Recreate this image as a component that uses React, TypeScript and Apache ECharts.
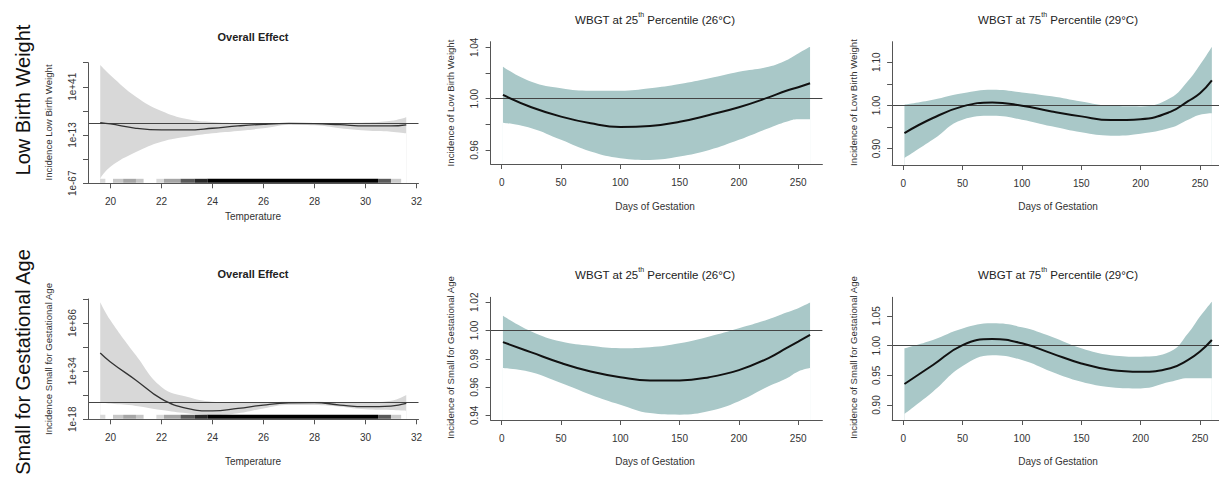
import React, { useEffect, useRef } from 'react';
import * as echarts from 'echarts';

const FONT = '"Liberation Sans", Arial, Helvetica, sans-serif';

// ---- Overall effect panels (values are log10 of incidence) ----
const TEMPS = [19.6, 20, 21, 22, 23, 24, 25, 26, 27, 28, 29, 30, 31, 31.6];
const LBW_ALL_FIT = [0.9, -0.6, -5.4, -7.3, -7.3, -5.4, -2.8, -0.9, 0, -0.2, -1.4, -2.8, -2.8, -1.5];
const LBW_ALL_HI = [65.5, 54, 30, 14, 5, 1.5, 0.5, 0.5, 0.3, 0.3, 0.5, 1, 3, 7];
const LBW_ALL_LO = [-61.4, -48.4, -32, -20.4, -14.8, -11, -8.4, -5.4, -1.7, -2, -5.4, -8, -9.2, -11];
const SGA_ALL_FIT = [53.7, 44, 24.3, 4, -6.2, -9, -6.2, -2.6, -0.3, 0.1, -2.6, -4.4, -3.7, -0.8];
const SGA_ALL_HI = [108.6, 89, 51.2, 17, 6.3, 1, 0, 0.3, 1, 1, 0.3, 0.3, 2, 8.2];
const SGA_ALL_LO = [0.5, -1, -3.5, -8, -11.5, -13.4, -11.5, -6.2, -2.6, -2.6, -4.4, -7.2, -8, -8.7];

// rug of observed temperatures: [from, to, darkness]
const RUG = [
  [19.6, 19.8, 0.15], [20.1, 20.5, 0.22], [20.5, 21.0, 0.35], [21.0, 21.3, 0.22],
  [21.8, 22.1, 0.15], [22.1, 22.75, 0.35], [22.75, 23.3, 0.65], [23.3, 23.8, 0.85],
  [23.8, 30.5, 1], [30.5, 31.0, 0.65], [31.0, 31.4, 0.2],
];

// ---- Lag panels ----
const DAYS = [1, 25, 50, 75, 100, 125, 150, 175, 200, 225, 240, 250, 260];
const LBW25_FIT = [1.0029, 0.9933, 0.986, 0.9808, 0.978, 0.9788, 0.982, 0.9873, 0.9933, 1.001, 1.0062, 1.0089, 1.012];
const LBW25_HI = [1.0249, 1.0132, 1.0081, 1.0062, 1.0062, 1.0081, 1.0114, 1.0159, 1.021, 1.0249, 1.03, 1.0353, 1.0405];
const LBW25_LO = [0.9813, 0.977, 0.9679, 0.9588, 0.9536, 0.9523, 0.9549, 0.96, 0.9679, 0.977, 0.9821, 0.984, 0.984];
const LBW75_FIT = [0.936, 0.9708, 0.9977, 1.0069, 0.9992, 0.986, 0.9746, 0.966, 0.968, 0.985, 1.01, 1.028, 1.058];
const LBW75_HI = [1.0015, 1.013, 1.028, 1.036, 1.03, 1.021, 1.009, 0.999, 0.9977, 1.017, 1.057, 1.094, 1.136];
const LBW75_LO = [0.878, 0.921, 0.967, 0.976, 0.967, 0.9515, 0.9377, 0.93, 0.9346, 0.948, 0.967, 0.9785, 0.982];
const SGA25_FIT = [0.9918, 0.9845, 0.977, 0.971, 0.967, 0.9647, 0.9647, 0.967, 0.972, 0.9805, 0.9875, 0.9922, 0.997];
const SGA25_HI = [1.0104, 0.9993, 0.9922, 0.9892, 0.9875, 0.9882, 0.991, 0.9958, 1.0016, 1.008, 1.0127, 1.0158, 1.0198];
const SGA25_LO = [0.9734, 0.9705, 0.9628, 0.9546, 0.9475, 0.9416, 0.9405, 0.943, 0.95, 0.9605, 0.966, 0.971, 0.9734];
const SGA75_FIT = [0.9354, 0.9674, 1.001, 1.0112, 1.0039, 0.987, 0.97, 0.959, 0.956, 0.962, 0.976, 0.99, 1.0096];
const SGA75_HI = [0.9955, 1.0096, 1.029, 1.0376, 1.031, 1.015, 0.9955, 0.984, 0.9815, 0.99, 1.0208, 1.049, 1.074];
const SGA75_LO = [0.885, 0.9225, 0.9657, 0.984, 0.9758, 0.956, 0.939, 0.93, 0.928, 0.939, 0.945, 0.945, 0.945];

const TEMP_TICKS = [20, 22, 24, 26, 28, 30, 32];
const DAY_TICKS = [0, 50, 100, 150, 200, 250];
const LBW_ALL_YTICKS = [-67, -40, -13, 14, 41, 68];
const LBW_ALL_YLABELS = [-67, -13, 41];
const SGA_ALL_YTICKS = [-18, 8, 34, 60, 86, 112];
const SGA_ALL_YLABELS = [-18, 34, 86];
const LBW25_YTICKS = [0.96, 0.98, 1.0, 1.02, 1.04];
const LBW25_YLABELS = [0.96, 1.0, 1.04];
const LBW75_YTICKS = [0.9, 0.95, 1.0, 1.05, 1.1];
const LBW75_YLABELS = [0.9, 1.0, 1.1];
const SGA25_YTICKS = [0.94, 0.96, 0.98, 1.0, 1.02];
const SGA75_YTICKS = [0.9, 0.95, 1.0, 1.05];

const GREY_BAND = '#d8d8d8';
const TEAL_BAND = '#a9c8c8';
const AXIS_COL = '#555';
const TEXT_COL = '#333';

type Panel = {
  grid: { left: number; top: number; width: number; height: number };
  xMin: number; xMax: number; xTicks: number[];
  yMin: number; yMax: number; yTicks: number[]; yLabels: number[];
  fmt: (v: number) => string;
  xs: number[]; fit: number[]; hi: number[]; lo: number[];
  band: string; ref: number; lineColor: string; lineWidth: number; rug?: boolean;
};

const expFmt = (v: number) => (v < 0 ? '1e' + v : '1e+' + v);
const decFmt = (v: number) => v.toFixed(2);

const PANELS: Panel[] = [
  { grid: { left: 88, top: 62.7, width: 330.5, height: 120.6 }, xMin: 19.12, xMax: 32.08, xTicks: TEMP_TICKS,
    yMin: -67, yMax: 68, yTicks: LBW_ALL_YTICKS, yLabels: LBW_ALL_YLABELS, fmt: expFmt,
    xs: TEMPS, fit: LBW_ALL_FIT, hi: LBW_ALL_HI, lo: LBW_ALL_LO, band: GREY_BAND, ref: 0, lineColor: '#333', lineWidth: 1.3, rug: true },
  { grid: { left: 490.6, top: 41.7, width: 331.8, height: 122.3 }, xMin: -9.4, xMax: 270.4, xTicks: DAY_TICKS,
    yMin: 0.9491, yMax: 1.0444, yTicks: LBW25_YTICKS, yLabels: LBW25_YLABELS, fmt: decFmt,
    xs: DAYS, fit: LBW25_FIT, hi: LBW25_HI, lo: LBW25_LO, band: TEAL_BAND, ref: 1, lineColor: '#111', lineWidth: 2 },
  { grid: { left: 892.1, top: 41.7, width: 332.1, height: 123.3 }, xMin: -9.4, xMax: 270.4, xTicks: DAY_TICKS,
    yMin: 0.862, yMax: 1.1475, yTicks: LBW75_YTICKS, yLabels: LBW75_YLABELS, fmt: decFmt,
    xs: DAYS, fit: LBW75_FIT, hi: LBW75_HI, lo: LBW75_LO, band: TEAL_BAND, ref: 1, lineColor: '#111', lineWidth: 2 },
  { grid: { left: 88, top: 299, width: 330.5, height: 120.3 }, xMin: 19.12, xMax: 32.08, xTicks: TEMP_TICKS,
    yMin: -18, yMax: 112, yTicks: SGA_ALL_YTICKS, yLabels: SGA_ALL_YLABELS, fmt: expFmt,
    xs: TEMPS, fit: SGA_ALL_FIT, hi: SGA_ALL_HI, lo: SGA_ALL_LO, band: GREY_BAND, ref: 0, lineColor: '#333', lineWidth: 1.3, rug: true },
  { grid: { left: 490.6, top: 297.3, width: 331.8, height: 122.7 }, xMin: -9.4, xMax: 270.4, xTicks: DAY_TICKS,
    yMin: 0.9367, yMax: 1.0235, yTicks: SGA25_YTICKS, yLabels: SGA25_YTICKS, fmt: decFmt,
    xs: DAYS, fit: SGA25_FIT, hi: SGA25_HI, lo: SGA25_LO, band: TEAL_BAND, ref: 1, lineColor: '#111', lineWidth: 2 },
  { grid: { left: 892.1, top: 297.3, width: 332.1, height: 122.7 }, xMin: -9.4, xMax: 270.4, xTicks: DAY_TICKS,
    yMin: 0.8747, yMax: 1.0815, yTicks: SGA75_YTICKS, yLabels: SGA75_YTICKS, fmt: decFmt,
    xs: DAYS, fit: SGA75_FIT, hi: SGA75_HI, lo: SGA75_LO, band: TEAL_BAND, ref: 1, lineColor: '#111', lineWidth: 2 },
];

const TITLES = [
  { x: 253, y: 37, main: 'Overall Effect', bold: true },
  { x: 655, y: 18, pct: '25', temp: '26' },
  { x: 1058, y: 18, pct: '75', temp: '29' },
  { x: 253, y: 274, main: 'Overall Effect', bold: true },
  { x: 655, y: 273, pct: '25', temp: '26' },
  { x: 1058, y: 273, pct: '75', temp: '29' },
];
const X_NAMES = [
  { x: 253, y: 216, text: 'Temperature' },
  { x: 655, y: 206, text: 'Days of Gestation' },
  { x: 1058, y: 206, text: 'Days of Gestation' },
  { x: 253, y: 461.5, text: 'Temperature' },
  { x: 655, y: 461, text: 'Days of Gestation' },
  { x: 1058, y: 461.5, text: 'Days of Gestation' },
];
const Y_NAMES = [
  { x: 48, y: 122.5, text: 'Incidence Low Birth Weight' },
  { x: 450, y: 103, text: 'Incidence of Low Birth Weight' },
  { x: 853, y: 102.5, text: 'Incidence of Low Birth Weight' },
  { x: 48, y: 359, text: 'Incidence Small for Gestational Age' },
  { x: 450, y: 357.5, text: 'Incidence of Small for Gestational Age' },
  { x: 853, y: 357.5, text: 'Incidence of Small for Gestational Age' },
];
const ROW_LABELS = [
  { x: 23, y: 100, text: 'Low Birth Weight' },
  { x: 23, y: 362, text: 'Small for Gestational Age' },
];

function buildOption() {
  const grids: any[] = [];
  const xAxes: any[] = [];
  const yAxes: any[] = [];
  const series: any[] = [];
  PANELS.forEach((p, i) => {
    grids.push({ ...p.grid, containLabel: false, outerBoundsMode: 'none' });
    xAxes.push({
      type: 'value', gridIndex: i, min: p.xMin, max: p.xMax, z: 10,
      axisLine: { show: true, onZero: false, lineStyle: { color: AXIS_COL, width: 1 } },
      axisTick: { show: true, length: 5, customValues: p.xTicks, lineStyle: { color: AXIS_COL } },
      axisLabel: { customValues: p.xTicks, margin: 13, fontSize: 10, color: TEXT_COL, fontFamily: FONT },
      splitLine: { show: false },
    });
    yAxes.push({
      type: 'value', gridIndex: i, min: p.yMin, max: p.yMax, z: 10,
      axisLine: { show: true, onZero: false, lineStyle: { color: AXIS_COL, width: 1 } },
      axisTick: { show: true, length: 5, customValues: p.yTicks, lineStyle: { color: AXIS_COL } },
      axisLabel: { customValues: p.yLabels, rotate: 90, margin: 11, fontSize: 10, color: TEXT_COL, fontFamily: FONT, formatter: p.fmt },
      splitLine: { show: false },
    });
    // confidence band: upper curve filled down to axis, then lower curve filled white on top
    series.push({
      type: 'line', xAxisIndex: i, yAxisIndex: i, smooth: 0.45, symbol: 'none',
      lineStyle: { width: 0, opacity: 0 },
      areaStyle: { color: p.band, opacity: 1, origin: 'start' },
      data: p.xs.map((x, k) => [x, p.hi[k]]),
      z: 1,
    });
    series.push({
      type: 'line', xAxisIndex: i, yAxisIndex: i, smooth: 0.45, symbol: 'none',
      lineStyle: { width: 0, opacity: 0 },
      areaStyle: { color: '#fff', opacity: 1, origin: 'start' },
      data: p.xs.map((x, k) => [x, p.lo[k]]),
      z: 1,
    });
    if (p.rug) {
      series.push({
        type: 'custom', xAxisIndex: i, yAxisIndex: i, z: 2,
        data: RUG.map((r) => [r[0], r[1], r[2]]),
        encode: { x: [0, 1] },
        renderItem: (params: any, api: any) => {
          const a = api.coord([api.value(0), p.yMin]);
          const b = api.coord([api.value(1), p.yMin]);
          return {
            type: 'rect',
            shape: { x: a[0], y: a[1] - 4.5, width: b[0] - a[0], height: 4 },
            style: { fill: '#000', opacity: api.value(2) },
          };
        },
      });
    }
    series.push({
      type: 'line', xAxisIndex: i, yAxisIndex: i, smooth: 0.45, symbol: 'none', z: 4,
      lineStyle: { color: p.lineColor, width: p.lineWidth },
      data: p.xs.map((x, k) => [x, p.fit[k]]),
      markLine: {
        silent: true, symbol: ['none', 'none'], label: { show: false },
        lineStyle: { color: '#444', width: 1, type: 'solid' },
        data: [{ yAxis: p.ref }],
        z: 3,
      },
    });
  });

  const graphics: any[] = [];
  TITLES.forEach((t: any) => {
    if (t.main) {
      graphics.push({ type: 'text', x: t.x, y: t.y, style: { text: t.main, fontSize: 11, fontWeight: 'bold', fontFamily: FONT, fill: '#222', align: 'center', verticalAlign: 'middle' } });
    } else {
      graphics.push({
        type: 'text', x: t.x, y: t.y,
        style: {
          text: `{a|WBGT at ${t.pct}}{s|th}{a| Percentile (${t.temp}°C)}`,
          align: 'center', verticalAlign: 'middle', fontFamily: FONT, fill: '#222',
          rich: {
            a: { fontSize: 11.5, fontFamily: FONT, fill: '#222', lineHeight: 15, verticalAlign: 'bottom' },
            s: { fontSize: 7, fontFamily: FONT, fill: '#222', lineHeight: 15, verticalAlign: 'top' },
          },
        },
      });
    }
  });
  X_NAMES.forEach((t) => graphics.push({ type: 'text', x: t.x, y: t.y, style: { text: t.text, fontSize: 10, fontFamily: FONT, fill: TEXT_COL, align: 'center', verticalAlign: 'middle' } }));
  Y_NAMES.forEach((t) => graphics.push({ type: 'text', x: t.x, y: t.y, rotation: Math.PI / 2, style: { text: t.text, fontSize: 9.6, fontFamily: FONT, fill: TEXT_COL, align: 'center', verticalAlign: 'middle' } }));
  ROW_LABELS.forEach((t) => graphics.push({ type: 'text', x: t.x, y: t.y, rotation: Math.PI / 2, style: { text: t.text, fontSize: 20, fontFamily: FONT, fill: '#111', align: 'center', verticalAlign: 'middle' } }));

  return {
    animation: false,
    backgroundColor: '#fff',
    grid: grids,
    xAxis: xAxes,
    yAxis: yAxes,
    series,
    graphic: graphics,
  };
}

export default function App() {
  const ref = useRef<HTMLDivElement>(null);
  useEffect(() => {
    if (!ref.current) return;
    const chart = echarts.init(ref.current, undefined, { renderer: 'svg' });
    chart.setOption(buildOption() as any);
    return () => chart.dispose();
  }, []);
  return <div ref={ref} style={{ position: 'absolute', left: 0, top: 0, width: 1219, height: 481 }} />;
}
